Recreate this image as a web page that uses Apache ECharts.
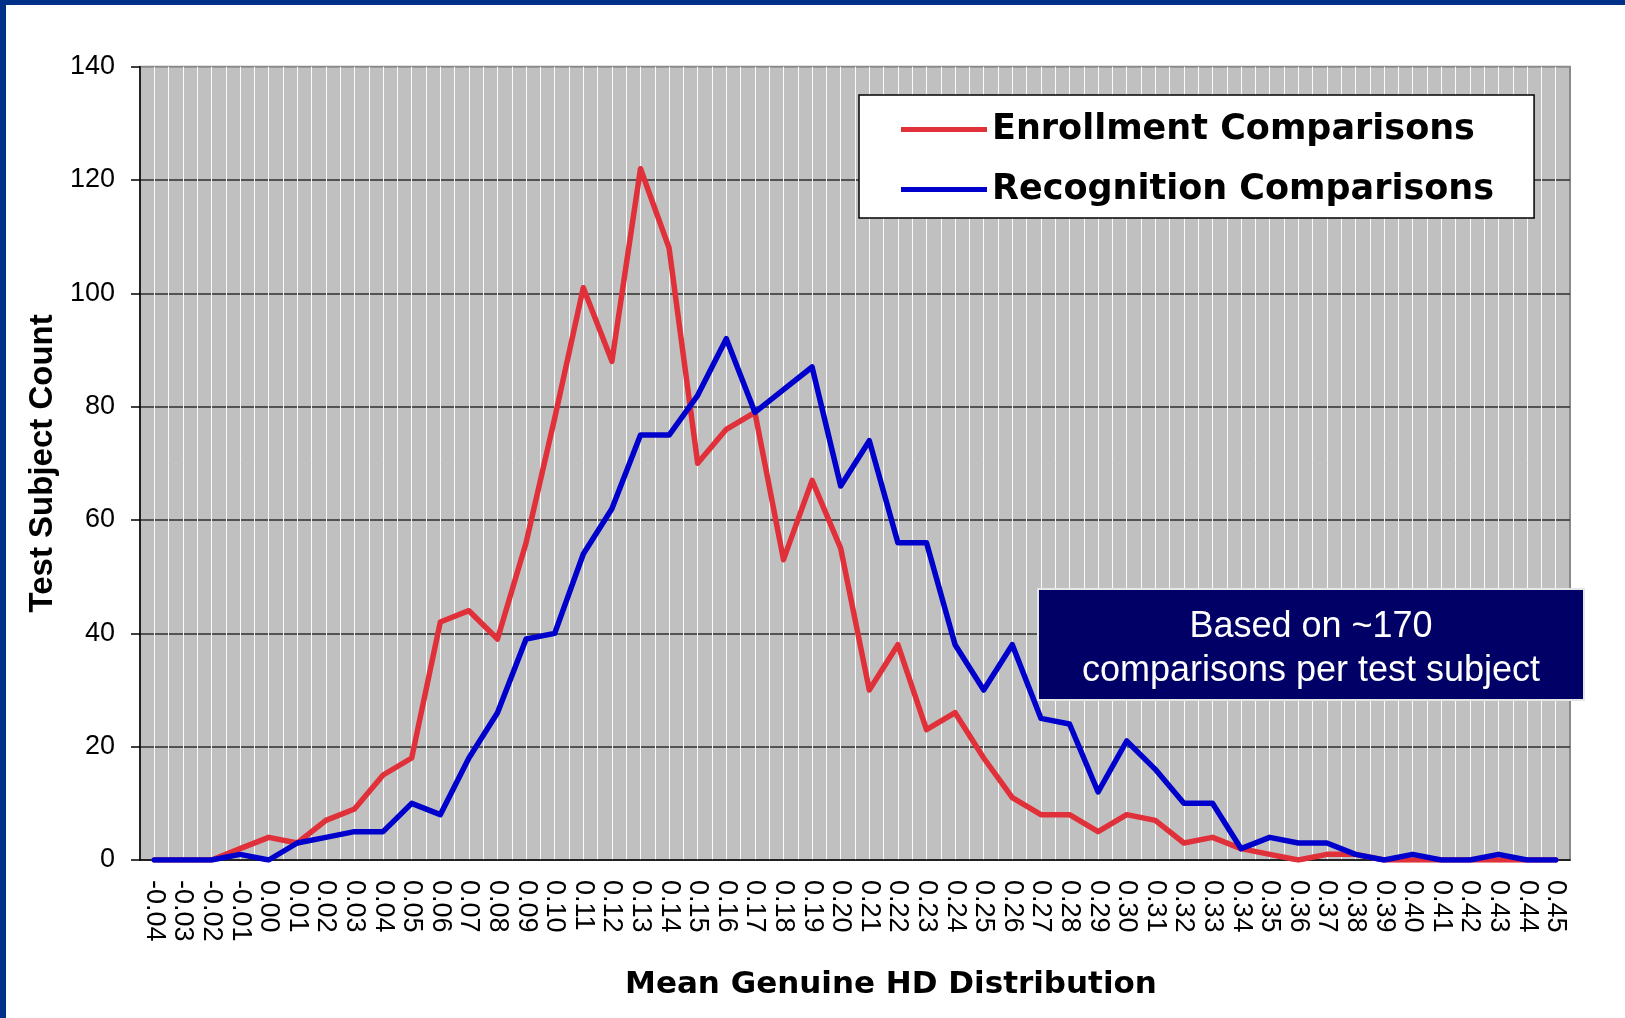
<!DOCTYPE html>
<html>
<head>
<meta charset="utf-8">
<script src="https://cdn.jsdelivr.net/npm/echarts@6/dist/echarts.min.js"></script>
<style>
  html, body { margin: 0; padding: 0; background: #fff; }
  #chart { width: 1625px; height: 1018px; }
</style>
</head>
<body>
<div id="chart"></div>
<script>
// x categories (mean genuine HD bins)
const hdBins = [
  '-0.04', '-0.03', '-0.02', '-0.01', '0.00', '0.01', '0.02', '0.03', '0.04', '0.05',
  '0.06', '0.07', '0.08', '0.09', '0.10', '0.11', '0.12', '0.13', '0.14', '0.15',
  '0.16', '0.17', '0.18', '0.19', '0.20', '0.21', '0.22', '0.23', '0.24', '0.25',
  '0.26', '0.27', '0.28', '0.29', '0.30', '0.31', '0.32', '0.33', '0.34', '0.35',
  '0.36', '0.37', '0.38', '0.39', '0.40', '0.41', '0.42', '0.43', '0.44', '0.45'
];

const enrollment = [
  0, 0, 0, 2, 4, 3, 7, 9, 15, 18,
  42, 44, 39, 56, 78, 101, 88, 122, 108, 70,
  76, 79, 53, 67, 55, 30, 38, 23, 26, 18,
  11, 8, 8, 5, 8, 7, 3, 4, 2, 1,
  0, 1, 1, 0, 0, 0, 0, 0, 0, 0
];

const recognition = [
  0, 0, 0, 1, 0, 3, 4, 5, 5, 10,
  8, 18, 26, 39, 40, 54, 62, 75, 75, 82,
  92, 79, 83, 87, 66, 74, 56, 56, 38, 30,
  38, 25, 24, 12, 21, 16, 10, 10, 2, 4,
  3, 3, 1, 0, 1, 0, 0, 1, 0, 0
];

const yTicks = { min: 0, max: 140, step: 20 };

const chart = echarts.init(document.getElementById('chart'));

const axisFont = { fontFamily: '"Liberation Sans", Arial, sans-serif', color: '#000' };

chart.setOption({
  animation: false,
  backgroundColor: '#fff',
  title: {
    text: 'Mean Genuine HD Distribution',
    left: 891,
    top: 969,
    padding: 0,
    textAlign: 'center',
    textStyle: {
      fontFamily: '"DejaVu Sans", sans-serif',
      fontWeight: 'bold',
      fontSize: 31,
      color: '#000'
    }
  },
  legend: {
    orient: 'vertical',
    left: 859,
    top: 95,
    padding: [17, 40, 11, 42],
    backgroundColor: '#fff',
    borderColor: '#000',
    borderWidth: 1.5,
    icon: 'rect',
    itemWidth: 86,
    itemHeight: 5,
    itemGap: 25,
    textStyle: {
      fontFamily: '"DejaVu Sans", sans-serif',
      fontWeight: 'bold',
      fontSize: 35,
      lineHeight: 35,
      color: '#000'
    }
  },
  grid: {
    left: 140,
    right: 55,
    top: 66.7,
    bottom: 158,
    show: true,
    backgroundColor: '#c0c0c0',
    borderColor: '#8a8a8a',
    borderWidth: 2
  },
  xAxis: [
    {
      type: 'category',
      data: hdBins,
      boundaryGap: true,
      axisLine: { lineStyle: { color: '#000', width: 1.5 } },
      axisTick: { interval: 0, length: 8, lineStyle: { color: '#000', width: 1.5 } },
      axisLabel: { ...axisFont, interval: 0, rotate: -90, fontSize: 27, margin: 20 },
      splitLine: { show: false }
    },
    {
      // fine vertical hatching of the plot background
      type: 'value',
      min: 0,
      max: 100,
      interval: 1,
      position: 'bottom',
      axisLine: { show: false },
      axisTick: { show: false },
      axisLabel: { show: false },
      splitLine: {
        show: true,
        showMinLine: false,
        showMaxLine: false,
        lineStyle: { color: '#fafafa', width: 1 }
      }
    }
  ],
  yAxis: {
    type: 'value',
    min: yTicks.min,
    max: yTicks.max,
    interval: yTicks.step,
    name: 'Test Subject Count',
    nameLocation: 'middle',
    nameRotate: 90,
    nameGap: 59,
    nameTextStyle: {
      fontFamily: '"Liberation Sans", Arial, sans-serif',
      fontWeight: 'bold',
      fontSize: 33,
      color: '#000'
    },
    axisLine: { show: true, lineStyle: { color: '#000', width: 1.5 } },
    axisTick: { show: true, length: 9, lineStyle: { color: '#000', width: 1.5 } },
    axisLabel: { ...axisFont, fontSize: 27, margin: 25 },
    splitLine: {
      show: true,
      showMinLine: false,
      showMaxLine: false,
      lineStyle: { color: '#2e2e2e', width: 1.5 }
    }
  },
  series: [
    {
      name: 'Enrollment Comparisons',
      type: 'line',
      data: enrollment,
      symbol: 'none',
      color: '#e0303a',
      lineStyle: { color: '#e0303a', width: 5.5, join: 'round', cap: 'round' },
      z: 3
    },
    {
      name: 'Recognition Comparisons',
      type: 'line',
      data: recognition,
      symbol: 'none',
      color: '#0000cc',
      lineStyle: { color: '#0000cc', width: 5.5, join: 'round', cap: 'round' },
      z: 4
    }
  ],
  graphic: [
    { type: 'rect', shape: { x: 0, y: 0, width: 1625, height: 5 }, style: { fill: '#003087' }, z: 100 },
    { type: 'rect', shape: { x: 0, y: 0, width: 6, height: 1018 }, style: { fill: '#003087' }, z: 100 },
    // annotation box
    {
      type: 'rect',
      z: 100,
      shape: { x: 1038, y: 589, width: 546, height: 111 },
      style: { fill: '#000066', stroke: '#e6e6e6', lineWidth: 2 }
    },
    {
      type: 'text',
      z: 101,
      x: 1311,
      y: 649,
      style: {
        text: 'Based on ~170\ncomparisons per test subject',
        fill: '#fff',
        font: '36px "Liberation Sans", Arial, sans-serif',
        lineHeight: 44,
        align: 'center',
        verticalAlign: 'middle'
      }
    }
  ]
});
</script>
</body>
</html>
